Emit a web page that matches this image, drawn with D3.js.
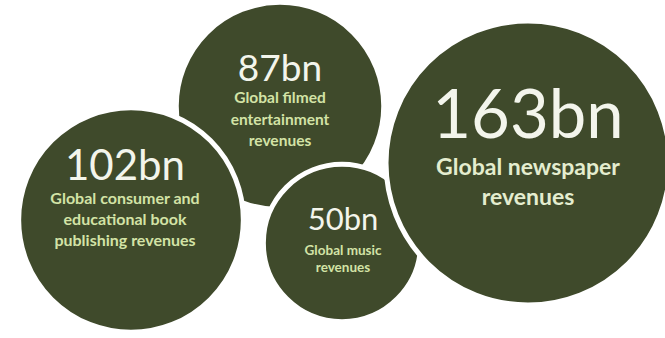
<!DOCTYPE html>
<html>
<head>
<meta charset="utf-8">
<script src="https://cdn.jsdelivr.net/npm/d3@7"></script>
<style>
  html, body { margin: 0; padding: 0; background: #ffffff; }
  svg { display: block; }
</style>
</head>
<body>
<div id="chart"></div>
<script>
// Global media revenues, in billions
const values = [87, 102, 50, 163];
const unit = "bn";
const labels = [
  ["Global filmed", "entertainment", "revenues"],
  ["Global consumer and", "educational book", "publishing revenues"],
  ["Global music", "revenues"],
  ["Global newspaper", "revenues"]
];

// Bubble placement and typography (drawn in this order so later bubbles overlap earlier ones)
const centers = [[280, 106], [131, 220], [342, 243], [528, 163]];
const textDx = [0, -6, 1, 0];
const valueFont = [37, 42, 31, 67];
const valueDy = [-25, -40, -13, -25];
const labelFont = [15.5, 16, 13.5, 23];
const labelDy = [[-3, 19, 40], [-16, 5, 26], [12, 29], [12, 42]];
const labelWeight = [700, 700, 700, 700];

const W = 665, H = 338;
const svg = d3.select("#chart").append("svg")
  .attr("width", W).attr("height", H);

// bubble area proportional to revenue
const r = d3.scaleSqrt().domain([0, d3.max(values)]).range([0, 142]);

const g = svg.selectAll("g.bubble")
  .data(values)
  .join("g")
  .attr("class", "bubble")
  .attr("transform", (d, i) => `translate(${centers[i][0]},${centers[i][1]})`);

g.append("circle")
  .attr("r", d => r(d))
  .attr("fill", "#3f4a2b")
  .attr("stroke", "#ffffff")
  .attr("stroke-width", 5);

g.append("text")
  .attr("text-anchor", "middle")
  .attr("x", (d, i) => textDx[i])
  .attr("y", (d, i) => valueDy[i])
  .attr("font-family", "Lato, 'Open Sans', sans-serif")
  .attr("font-size", (d, i) => valueFont[i])
  .attr("fill", "#f3f5ec")
  .text(d => d + unit);

g.each(function(d, i) {
  d3.select(this).selectAll("text.lbl")
    .data(labels[i])
    .join("text")
    .attr("class", "lbl")
    .attr("text-anchor", "middle")
    .attr("x", textDx[i])
    .attr("y", (t, j) => labelDy[i][j])
    .attr("font-family", "Lato, 'Open Sans', sans-serif")
    .attr("font-weight", labelWeight[i])
    .attr("font-size", labelFont[i])
    .attr("fill", i === 3 ? "#e4edcf" : "#d3e3a6")
    .text(t => t);
});
</script>
</body>
</html>
